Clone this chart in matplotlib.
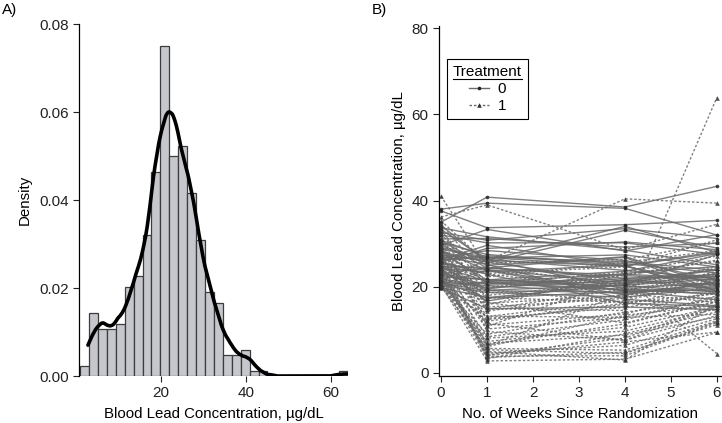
import numpy as np
import matplotlib
matplotlib.use("Agg")
import matplotlib.pyplot as plt
from matplotlib.lines import Line2D

plt.rcParams["font.family"] = ["Liberation Sans", "DejaVu Sans"]

# Blood lead (ug/dL) per child at weeks 0, 1, 4, 6
weeks = [0, 1, 4, 6]

# treatment 0 (placebo)
placebo = [
    [30.8, 26.9, 25.8, 23.8], [24.7, 24.5, 22.0, 22.5], [28.6, 20.8, 19.2, 18.4],
    [33.7, 31.6, 28.5, 25.1], [19.7, 14.9, 15.3, 14.7], [31.1, 31.2, 29.2, 30.1],
    [19.8, 17.5, 20.5, 27.5], [21.4, 26.3, 19.5, 19.0], [21.1, 20.3, 18.4, 20.8],
    [20.6, 23.9, 19.0, 17.0], [24.0, 16.7, 21.7, 20.3], [37.6, 33.7, 34.4, 35.4],
    [29.6, 33.3, 28.3, 32.1], [26.2, 26.8, 24.7, 20.8], [20.5, 21.1, 20.2, 18.8],
    [33.3, 26.2, 34.0, 28.0], [27.9, 21.6, 23.6, 27.7], [24.7, 21.2, 22.9, 21.9],
    [28.8, 26.4, 23.8, 22.0], [32.0, 30.2, 30.2, 27.5], [35.0, 40.8, 38.5, 43.3],
    [38.0, 39.4, 38.2, 32.0], [30.2, 27.5, 24.9, 19.0], [23.6, 19.2, 20.4, 21.8],
    [27.0, 25.2, 17.1, 15.6], [21.9, 19.8, 21.5, 19.6], [25.3, 24.0, 20.9, 23.9],
    [29.1, 26.7, 27.4, 24.6], [22.3, 21.7, 19.9, 20.7], [26.6, 28.4, 26.1, 21.6],
    [26.4, 29.6, 24.9, 28.2], [20.3, 18.7, 17.6, 19.8], [24.2, 23.5, 25.0, 18.4],
    [28.1, 25.7, 21.3, 24.0], [20.1, 21.0, 19.4, 18.3], [32.6, 30.8, 33.5, 31.2],
    [22.7, 20.6, 21.9, 22.8], [25.7, 22.9, 16.2, 15.4], [34.3, 25.6, 33.1, 29.0],
    [23.1, 24.3, 22.6, 21.5], [27.4, 26.1, 24.8, 27.9], [20.8, 19.1, 18.7, 20.1],
    [29.9, 24.4, 27.0, 20.3], [24.5, 19.5, 23.1, 24.7], [25.8, 28.9, 30.4, 28.6],
    [21.2, 17.4, 18.9, 19.3], [26.3, 27.2, 25.4, 23.2], [30.6, 25.0, 26.8, 19.0],
    [22.9, 21.5, 20.7, 22.4], [28.4, 23.8, 18.1, 21.2],
]

# treatment 1 (succimer)
succimer = [
    [26.5, 14.8, 19.5, 21.0], [25.8, 23.0, 19.1, 23.2], [20.4, 2.8, 3.2, 9.4],
    [20.4, 5.4, 4.5, 11.9], [24.8, 23.1, 24.6, 30.9], [27.9, 6.3, 18.5, 16.3],
    [35.3, 25.5, 26.3, 30.3], [28.6, 15.8, 22.9, 25.9], [31.9, 9.6, 7.6, 15.4],
    [21.5, 6.5, 11.4, 16.5], [21.8, 12.0, 16.2, 14.5], [23.0, 4.2, 8.1, 15.8],
    [22.2, 11.5, 7.6, 13.3], [25.0, 3.9, 4.0, 11.7], [26.0, 21.4, 21.2, 20.5],
    [19.7, 13.2, 12.9, 13.6], [29.6, 17.5, 16.4, 18.4], [21.8, 19.3, 16.4, 17.5],
    [24.4, 16.4, 11.6, 16.6], [33.7, 14.9, 14.5, 63.9], [41.0, 24.6, 20.3, 22.9],
    [36.2, 39.0, 28.6, 34.5], [29.5, 26.0, 40.4, 39.4], [27.3, 10.8, 21.8, 4.5],
    [22.6, 4.1, 7.2, 9.5], [31.2, 18.6, 19.7, 24.8], [24.1, 8.4, 12.3, 17.9],
    [20.0, 5.7, 5.3, 12.1], [28.9, 13.1, 16.8, 21.7], [25.4, 3.3, 9.1, 14.2],
    [33.0, 20.7, 23.4, 27.1], [21.2, 7.3, 10.6, 15.3], [26.8, 16.2, 17.9, 22.0],
    [23.7, 4.6, 6.4, 12.6], [30.5, 11.1, 13.7, 19.2], [20.7, 9.0, 14.1, 16.9],
    [25.9, 12.7, 15.2, 18.5], [34.4, 22.3, 25.7, 28.4], [22.9, 6.9, 8.8, 13.0],
    [27.6, 17.3, 20.8, 24.3], [21.5, 3.6, 4.8, 11.2], [29.2, 14.4, 18.2, 23.6],
    [24.6, 10.2, 12.9, 17.4], [32.3, 19.9, 22.6, 26.2], [20.2, 8.1, 9.7, 14.9],
    [26.2, 15.3, 17.3, 21.4], [23.3, 5.0, 3.0, 16.0], [28.2, 12.4, 15.9, 20.6],
    [21.9, 6.1, 13.4, 15.7], [25.1, 18.0, 21.1, 23.0],
]

values = np.concatenate([np.ravel(placebo), np.ravel(succimer)])

# histogram bins (width 2.1)
bin_start = 0.95
bin_width = 2.1
n_bins = 30
edges = bin_start + bin_width * np.arange(n_bins + 1)

# epanechnikov kernel density, stata-style default bandwidth
sd = values.std(ddof=1)
iqr = np.percentile(values, 75) - np.percentile(values, 25)
h = 0.9 * min(sd, iqr / 1.349) * len(values) ** -0.2
grid = np.linspace(values.min(), values.max(), 500)
u = (grid[:, None] - values[None, :]) / h
kern = np.where(np.abs(u) < np.sqrt(5), 0.75 * (1 - u ** 2 / 5) / np.sqrt(5), 0.0)
dens = kern.sum(axis=1) / (len(values) * h)

W, H = 722, 423
fig = plt.figure(figsize=(W / 100, H / 100), dpi=100)

tick_fs = 11
label_fs = 10.8

# ---- A) histogram ----
ax1 = fig.add_axes([79 / W, 1 - 376 / H, (348 - 79) / W, (376 - 24) / H])
ax1.hist(values, bins=edges, density=True, color="#c6c7cd", edgecolor="#3c3c3c", linewidth=0.9)
ax1.plot(grid, dens, color="black", linewidth=2.6, solid_capstyle="round")
ax1.set_xlim(0.7, 64.0)
ax1.set_ylim(0, 0.08)
ax1.set_yticks([0, 0.02, 0.04, 0.06, 0.08])
ax1.set_yticklabels(["0.00", "0.02", "0.04", "0.06", "0.08"])
ax1.set_xticks([20, 40, 60])
ax1.set_ylabel("Density", fontsize=label_fs, labelpad=5)
ax1.set_xlabel("Blood Lead Concentration, \u00b5g/dL", fontsize=label_fs, labelpad=5)
for s in ["top", "right", "bottom"]:
    ax1.spines[s].set_visible(False)
ax1.spines["left"].set_linewidth(0.9)
ax1.tick_params(labelsize=tick_fs, length=4, width=0.8, direction="out", colors="#222222")

# ---- B) spaghetti plot ----
ax2 = fig.add_axes([439 / W, 1 - 376 / H, (721 - 439) / W, (376 - 26) / H])
line_col = "#6a6a6a"
dash = (0, (1.8, 1.4))
for row in placebo:
    ax2.plot(weeks, row, color=line_col, linestyle="-", linewidth=1.0, alpha=0.85,
             marker="o", markersize=2.6, markeredgewidth=0, markerfacecolor="#222222")
for row in succimer:
    ax2.plot(weeks, row, color=line_col, linestyle=dash, linewidth=1.0, alpha=0.85,
             marker="^", markersize=3.3, markeredgewidth=0, markerfacecolor="#333333")
ax2.set_xlim(-0.045, 6.09)
ax2.set_ylim(-0.7, 80.5)
ax2.set_xticks(range(7))
ax2.set_yticks([0, 20, 40, 60, 80])
ax2.set_ylabel("Blood Lead Concentration, \u00b5g/dL", fontsize=label_fs, labelpad=4)
ax2.set_xlabel("No. of Weeks Since Randomization", fontsize=label_fs, labelpad=5)
for s in ["top", "right"]:
    ax2.spines[s].set_visible(False)
ax2.spines["left"].set_linewidth(0.9)
ax2.spines["bottom"].set_linewidth(0.9)
ax2.tick_params(labelsize=tick_fs, length=4, width=0.8, direction="out", colors="#222222")

handles = [
    Line2D([], [], color=line_col, linestyle="-", linewidth=1.0, marker="o",
           markersize=2.6, markeredgewidth=0, markerfacecolor="#222222"),
    Line2D([], [], color=line_col, linestyle=dash, linewidth=1.0, marker="^",
           markersize=3.3, markeredgewidth=0, markerfacecolor="#333333"),
]
leg = ax2.legend(handles, ["0", "1"], title="Treatment", loc="upper left",
                 bbox_to_anchor=((447 - 439) / (721 - 439), 1 - (59 - 26) / (376 - 26)),
                 borderaxespad=0, fontsize=tick_fs, title_fontsize=tick_fs,
                 frameon=True, fancybox=False, framealpha=1, edgecolor="black",
                 handlelength=1.3, handletextpad=0.6, labelspacing=0.2,
                 borderpad=0.4, alignment="center")
leg.get_frame().set_linewidth(0.8)

fig.text(2 / W, 1 - 3 / H, "A)", fontsize=tick_fs, va="top", ha="left")
fig.text(372 / W, 1 - 3 / H, "B)", fontsize=tick_fs, va="top", ha="left")

# underline the legend title
fig.canvas.draw()
tb = leg.get_title().get_window_extent()
fig.add_artist(Line2D([tb.x0 / W, tb.x1 / W], [(tb.y0 + 0.5) / H, (tb.y0 + 0.5) / H],
                      color="black", linewidth=0.8))

fig.savefig("out.png", dpi=100)
